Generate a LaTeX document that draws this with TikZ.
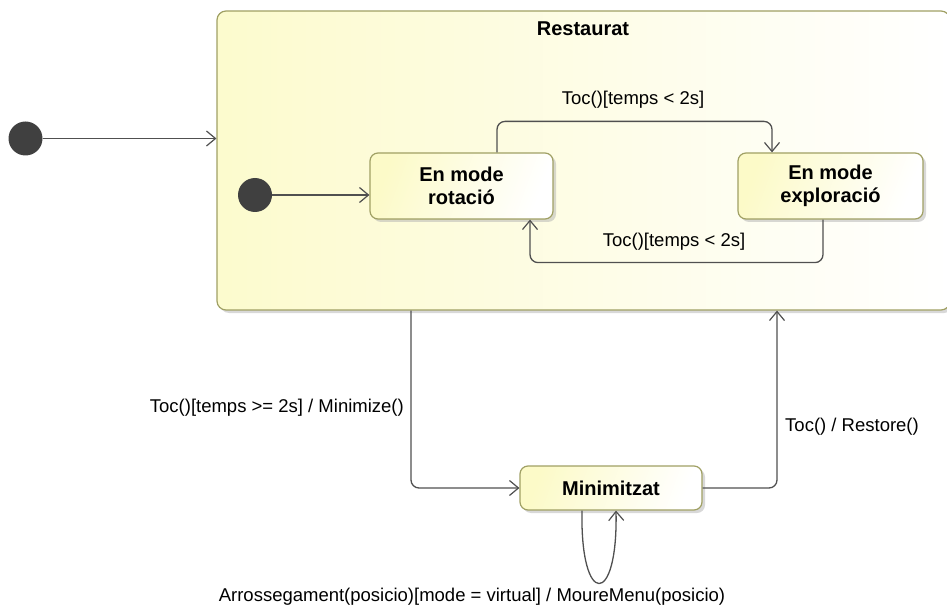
\documentclass[tikz,border=0pt]{standalone}
\usepackage{fontspec}
\setmainfont{Liberation Sans}
\usetikzlibrary{arrows.meta,shadows,calc}

\definecolor{stateborder}{RGB}{160,160,100}
\definecolor{stateyellow}{RGB}{252,250,200}
\definecolor{edgegray}{RGB}{80,80,80}
\definecolor{dotgray}{RGB}{64,64,64}

\begin{document}
\begin{tikzpicture}[x=1pt,y=-1pt,
  statebox/.style={draw=stateborder, line width=1.2pt, rounded corners=8pt,
    left color=stateyellow, right color=white, shading angle=70,
    drop shadow={shadow xshift=3pt, shadow yshift=-3pt, fill=black!30},
    align=center, font=\fontsize{20}{23}\selectfont\bfseries, inner sep=0pt},
  initdot/.style={circle, fill=dotgray, minimum width=33pt, minimum height=34pt, inner sep=0pt},
  edge/.style={draw=edgegray, line width=1.3pt, rounded corners=8pt,
    -{Straight Barb[length=9pt,width=15pt,line width=1.2pt]}},
  lbl/.style={font=\fontsize{18.5}{22}\selectfont, inner sep=0pt, text=black}]

  \useasboundingbox (0,0) rectangle (947,612);

  % composite state
  \node[statebox, left color=stateyellow!90, right color=white, shading angle=90,
        minimum width=733pt, minimum height=299pt, rounded corners=9pt]
        (rest) at (583.5,160.5) {};
  \node[font=\fontsize{20}{23}\selectfont\bfseries, inner sep=0pt] (restTitle) at (583,29) {Restaurat};

  % inner states
  \node[statebox, minimum width=183pt, minimum height=66pt] (rot) at (461.5,186) {En mode\\rotació};
  \node[statebox, minimum width=185pt, minimum height=66pt] (expl) at (830.5,186) {En mode\\exploració};
  \node[statebox, minimum width=182pt, minimum height=44pt] (mini) at (611,488) {Minimitzat};

  % initial pseudostates
  \node[initdot] (init0) at (25.5,138.5) {};
  \node[initdot] (init1) at (255,195) {};

  % transitions
  \draw[edge] (init0) -- (init0 -| rest.west);
  \draw[edge] (init1) -- (init1 -| rot.west);

  \draw[edge] ([xshift=35.5pt]rot.north) -- ++(0,-31) -| ([xshift=-58.5pt]expl.north);
  \node[lbl] (lblTop) at (633,100) {Toc()[temps < 2s]};

  \draw[edge] ([xshift=-7.5pt]expl.south) -- ++(0,43) -| ([xshift=68.5pt]rot.south);
  \node[lbl] (lblBottom) at (674,242) {Toc()[temps < 2s]};

  \draw[edge] ([xshift=-172.5pt]rest.south) |- (mini.west);
  \node[lbl, anchor=east] (lblMin) at (404,408) {Toc()[temps >= 2s] / Minimize()};

  \draw[edge] (mini.east) -| ([xshift=193.5pt]rest.south);
  \node[lbl, anchor=west] (lblRes) at (785,427) {Toc() / Restore()};

  \draw[edge, rounded corners=0pt] ([xshift=-29pt]mini.south) .. controls +(-2,97) and +(2,97) .. ([xshift=5pt]mini.south);
  \node[lbl] (lblLoop) at (472,597) {Arrossegament(posicio)[mode = virtual] / MoureMenu(posicio)};
\end{tikzpicture}
\end{document}
